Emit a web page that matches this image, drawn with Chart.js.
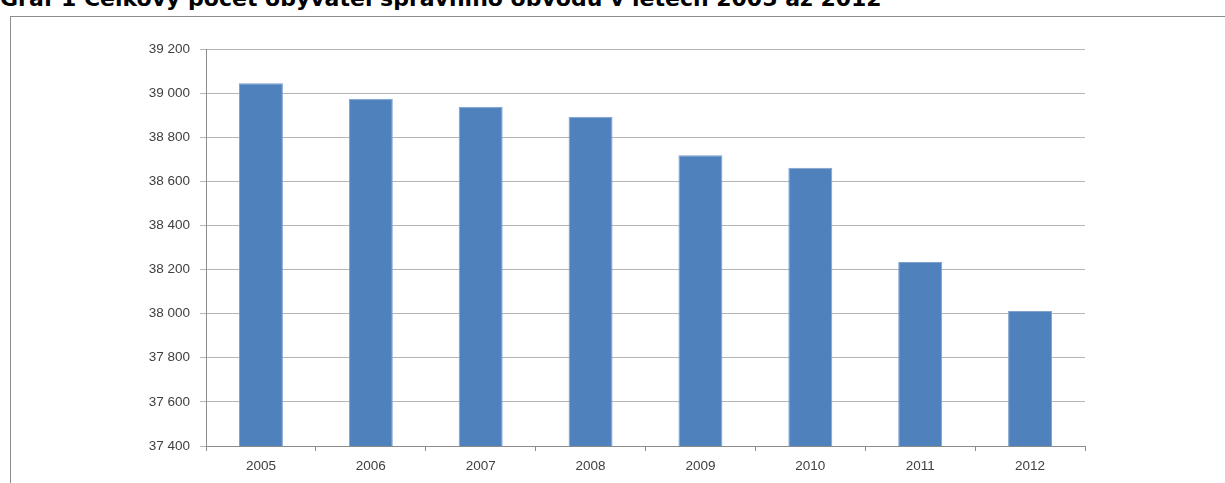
<!DOCTYPE html>
<html>
<head>
<meta charset="utf-8">
<script src="https://cdn.jsdelivr.net/npm/chart.js@4"></script>
<style>
  html, body { margin: 0; padding: 0; background: #fff; overflow: hidden; }
  #wrap { position: relative; width: 1225px; height: 483px; }
  #title {
    position: absolute; left: 0; top: -14px; white-space: nowrap;
    font: bold 22px "DejaVu Sans", sans-serif; line-height: 26px; color: #000;
  }
  #frame {
    position: absolute; left: 10px; top: 16px; width: 1300px; height: 600px;
    border: 1px solid #8c8c8c; box-sizing: border-box; background: #fff;
  }
  #c { position: absolute; left: 0; top: 0; }
</style>
</head>
<body>
<div id="wrap">
  <div id="title">Graf 1 Celkový počet obyvatel správního obvodu v letech 2005 až 2012</div>
  <div id="frame"></div>
  <canvas id="c" width="1225" height="483"></canvas>
</div>
<script>
const years = ['2005', '2006', '2007', '2008', '2009', '2010', '2011', '2012'];
const population = [39045, 38975, 38938, 38893, 38718, 38662, 38234, 38012];
const yMin = 37400;
const yMax = 39200;
const yStep = 200;

const ctx = document.getElementById('c').getContext('2d');
const chart = new Chart(ctx, {
    type: 'bar',
    data: {
        labels: years,
        datasets: [
            {
              label: 'Počet obyvatel',
              data: population,
              backgroundColor: '#4f81bd',
              borderColor: '#7ea1cf',
              borderWidth: 1,
              barPercentage: 0.4,
              categoryPercentage: 1
            }
        ]
    },
    options: {
        responsive: false,
        animation: false,
        layout: { padding: { left: 126, right: 140, top: 49, bottom: 0 } },
        plugins: {
            legend: { display: false },
            tooltip: { enabled: false }
        },
        scales: {
            x: {
                afterFit: function (scale) { scale.height = 37; },
                grid: {
                    offset: true,
                    drawOnChartArea: false,
                    tickLength: 5,
                    color: '#8c8c8c'
                },
                border: { color: '#8c8c8c' },
                ticks: {
                    color: '#404040',
                    padding: 7,
                    font: { family: 'Liberation Sans', size: 13.5 }
                }
            },
            y: {
                min: yMin,
                max: yMax,
                afterFit: function (scale) { scale.width = 80; },
                grid: {
                    color: '#b5b5b5',
                    tickLength: 6
                },
                border: { color: '#8c8c8c' },
                ticks: {
                    stepSize: yStep,
                    color: '#404040',
                    padding: 10,
                    font: { family: 'Liberation Sans', size: 13.5 },
                    callback: function (v) {
                        return String(v).replace(/\B(?=(\d{3})+(?!\d))/g, ' ');
                    }
                }
            }
        }
    }
});
</script>
</body>
</html>
